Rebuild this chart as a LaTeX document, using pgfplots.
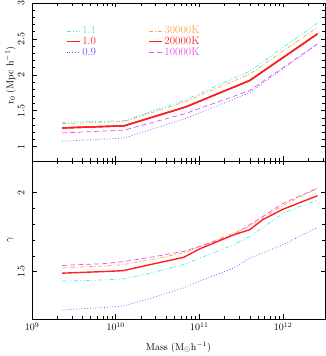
\documentclass[border=0pt]{standalone}
\usepackage{pgfplots}
\pgfplotsset{compat=1.18}
\definecolor{ccyan}{RGB}{70,235,235}
\definecolor{corange}{RGB}{255,165,70}
\definecolor{cred}{RGB}{250,35,35}
\definecolor{cmag}{RGB}{235,80,235}
\definecolor{cblue}{RGB}{90,90,250}
\pgfplotsset{
  lcy/.style={color=ccyan, line width=0.7bp, dash pattern=on 4bp off 2bp on 1bp off 2bp on 1bp off 2bp},
  lor/.style={color=corange, line width=0.7bp, dash pattern=on 4bp off 2bp on 1bp off 2bp},
  lrd/.style={color=cred, line width=1.4bp},
  lmg/.style={color=cmag, line width=0.7bp, dash pattern=on 5bp off 3bp},
  lbl/.style={color=cblue, line width=0.7bp, dash pattern=on 0.8bp off 2bp},
  legend image code/.code={\draw[#1] (0bp,0bp) -- (13bp,0bp);},
}
\pgfplotstableread{
m cy or rd mg bl
2.29e9  1.34 1.32 1.26 1.19 1.075
1.26e10 1.36 1.35 1.29 1.23 1.12
6.76e10 1.65 1.625 1.55 1.46 1.39
3.98e11 2.05 2.01 1.92 1.78 1.75
2.57e12 2.72 2.66 2.57 2.43 2.43
}\toptab
\pgfplotstableread{
m cy or rd mg bl
2.29e9  1.440 1.523 1.490 1.538 1.256
3.98e9  1.443 1.530 1.495 1.545 1.265
7.08e9  1.447 1.535 1.500 1.550 1.272
1.23e10 1.454 1.544 1.506 1.563 1.282
2.57e10 1.490 1.575 1.544 1.590 1.330
6.46e10 1.544 1.618 1.590 1.628 1.397
1.02e11 1.586 1.660 1.645 1.660 1.440
2.57e11 1.670 1.744 1.733 1.733 1.523
3.98e11 1.723 1.786 1.765 1.796 1.586
5.75e11 1.780 1.840 1.830 1.850 1.620
1.00e12 1.870 1.920 1.895 1.933 1.670
2.57e12 1.954 2.027 1.980 2.027 1.780
}\bottab
\begin{document}
\begin{tikzpicture}
\useasboundingbox (0bp,0bp) rectangle (326bp,356bp);
\begin{axis}[scale only axis, width=293bp, height=158bp,
  xmode=log, xmin=1e9, xmax=3.1623e12,
  tick align=inside, major tick length=4.5bp, minor tick length=2.7bp,
  tick style={black, line width=0.5pt}, axis line style={line width=0.6pt},
  yticklabel style={rotate=90, anchor=south}, yticklabel shift=4bp,
  minor y tick num=4,
  at={(32bp,195bp)}, anchor=south west,
  ymin=0.8, ymax=3, ytick={1,1.5,2,2.5,3},
  xticklabels={},
  ylabel={r$_0$ (Mpc h$^{-1}$)},
  ylabel style={at={(axis description cs:-0.0734,0.54)}, anchor=center},
  legend columns=2,
  legend style={at={(0.105,0.878)}, anchor=north west, draw=none, fill=none,
    font=\fontsize{11}{13}\selectfont, row sep=-2.3bp,
    /tikz/every even column/.append style={column sep=50bp}},
  legend cell align=left,
]
\addplot[lcy] table[x=m,y=cy] {\toptab};
\addlegendentry{\textcolor{ccyan}{1.1}}
\addplot[lor] table[x=m,y=or] {\toptab};
\addlegendentry{\textcolor{corange}{30000K}}
\addplot[lrd] table[x=m,y=rd] {\toptab};
\addlegendentry{\textcolor{cred}{1.0}}
\addplot[lrd] table[x=m,y=rd] {\toptab};
\addlegendentry{\textcolor{cred}{20000K}}
\addplot[lbl] table[x=m,y=bl] {\toptab};
\addlegendentry{\textcolor{cblue}{0.9}}
\addplot[lmg] table[x=m,y=mg] {\toptab};
\addlegendentry{\textcolor{cmag}{10000K}}
\addplot[lrd, forget plot] table[x=m,y=rd] {\toptab};
\end{axis}
\begin{axis}[scale only axis, width=293bp, height=158bp,
  xmode=log, xmin=1e9, xmax=3.1623e12,
  tick align=inside, major tick length=4.5bp, minor tick length=2.7bp,
  tick style={black, line width=0.5pt}, axis line style={line width=0.6pt},
  yticklabel style={rotate=90, anchor=south}, yticklabel shift=4bp,
  minor y tick num=4,
  at={(32bp,37bp)}, anchor=south west,
  ymin=1.2, ymax=2.2, ytick={1.5,2},
  xtick={1e9,1e10,1e11,1e12},
  ylabel={$\gamma$},
  ylabel style={at={(axis description cs:-0.0734,0.5)}, anchor=center},
  xlabel={Mass (M$_\odot$h$^{-1}$)},
  xlabel style={at={(axis description cs:0.5,-0.18)}, anchor=center},
]
\addplot[lcy] table[x=m,y=cy] {\bottab};
\addplot[lor] table[x=m,y=or] {\bottab};
\addplot[lmg] table[x=m,y=mg] {\bottab};
\addplot[lbl] table[x=m,y=bl] {\bottab};
\addplot[lrd] table[x=m,y=rd] {\bottab};
\end{axis}
\end{tikzpicture}
\end{document}
